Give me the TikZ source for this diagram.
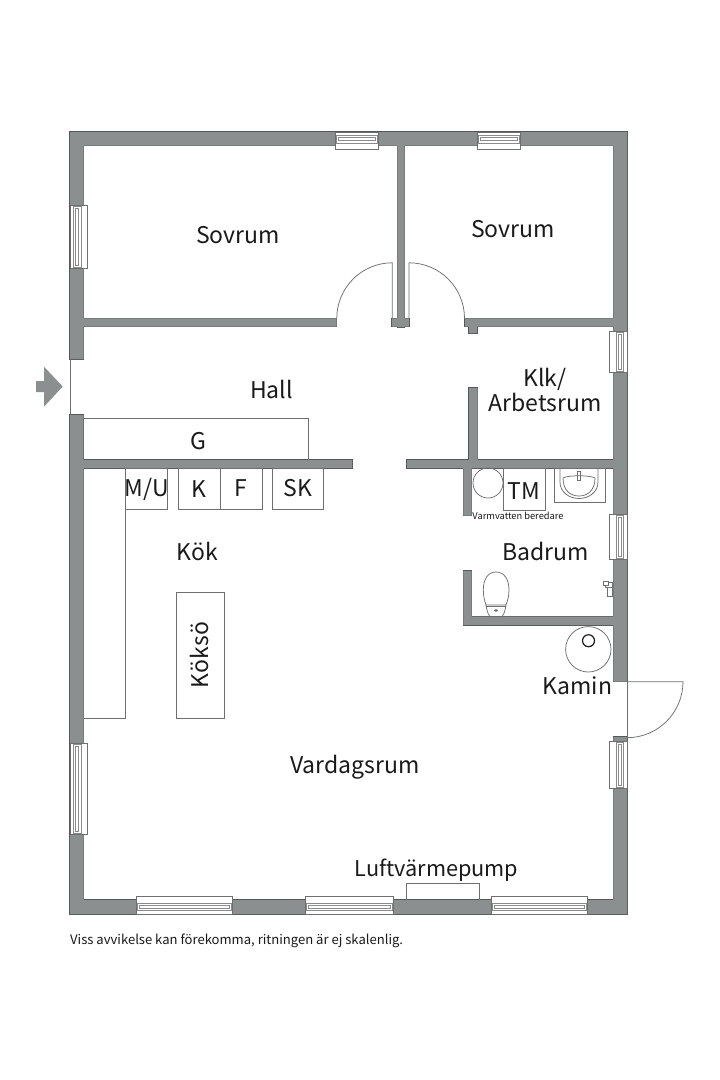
\documentclass[tikz,border=0pt]{standalone}
\usepackage{fontspec}
\setmainfont{Noto Sans CJK SC}
\definecolor{wallgray}{HTML}{8C8F8F}
\definecolor{walledge}{HTML}{555858}
\definecolor{linegray}{HTML}{6E7070}
\definecolor{winline}{HTML}{8A8C8C}
\definecolor{inkblack}{HTML}{1A1A1A}
\newcommand{\wallrects}{
  (70,132) rectangle (83.5,359)
  (70,132) rectangle (627,145.5)
  (613.3,132) rectangle (627,681.7)
  (70,415) rectangle (83.5,914)
  (70,900) rectangle (627,914)
  (613.3,737) rectangle (627,914)
  (397.3,132) rectangle (404.7,327)
  (392,318.3) rectangle (409,326.7)
  (70,318.3) rectangle (336.7,326.7)
  (465,318.3) rectangle (613.3,326.7)
  (469,318.3) rectangle (477,333)
  (70,460) rectangle (352,468)
  (407,460) rectangle (613.3,468)
  (469,388) rectangle (477.7,468)
  (463.3,460) rectangle (471.7,515.7)
  (463.3,571) rectangle (471.7,625)
  (463.3,616.7) rectangle (613.3,625)
}
\newcommand{\hwin}[4]{
  \fill[white] (#1,#3) rectangle (#2,#4);
  \draw[fine] (#1,#3) rectangle (#2,#4);
  \pgfmathsetmacro{\sa}{#3+0.38*(#4-#3)}
  \pgfmathsetmacro{\sb}{#3+0.80*(#4-#3)}
  \pgfmathsetmacro{\xa}{#1+1}
  \pgfmathsetmacro{\xb}{#2-1}
  \pgfmathsetmacro{\xc}{#1+3}
  \pgfmathsetmacro{\xd}{#2-3}
  \pgfmathsetmacro{\sc}{#3+0.52*(#4-#3)}
  \pgfmathsetmacro{\sd}{#3+0.68*(#4-#3)}
  \draw[winfine] (\xa,\sa) rectangle (\xb,\sb);
  \draw[winfine] (\xc,\sc) rectangle (\xd,\sd);
}
\newcommand{\vwin}[4]{
  \fill[white] (#3,#1) rectangle (#4,#2);
  \draw[fine] (#3,#1) rectangle (#4,#2);
  \pgfmathsetmacro{\sa}{#3+0.38*(#4-#3)}
  \pgfmathsetmacro{\sb}{#3+0.80*(#4-#3)}
  \pgfmathsetmacro{\xa}{#1+1}
  \pgfmathsetmacro{\xb}{#2-1}
  \pgfmathsetmacro{\xc}{#1+3}
  \pgfmathsetmacro{\xd}{#2-3}
  \pgfmathsetmacro{\sc}{#3+0.52*(#4-#3)}
  \pgfmathsetmacro{\sd}{#3+0.68*(#4-#3)}
  \draw[winfine] (\sa,\xa) rectangle (\sb,\xb);
  \draw[winfine] (\sc,\xc) rectangle (\sd,\xd);
}
\tikzset{
  fine/.style={draw=linegray,line width=0.75pt},
  winfine/.style={draw=winline,line width=0.6pt},
  room/.style={text=inkblack,font=\fontsize{23}{25}\selectfont,inner sep=0pt,align=center},
  fixture/.style={text=inkblack,font=\fontsize{23}{25}\selectfont,inner sep=0pt},
}
\begin{document}
\begin{tikzpicture}[x=1pt,y=-1pt]
\useasboundingbox (0,0) rectangle (720,1080);
\fill[white] (0,0) rectangle (720,1080);
% walls
\path[draw=walledge,line width=1.1pt] \wallrects;
\path[fill=wallgray] \wallrects;
% entrance and terrace door thresholds
\draw[fine] (70,359) -- (70,415);
\draw[fine] (627,681.7) -- (627,737);
% entrance arrow
\fill[wallgray] (36,381) -- (44,381) -- (44,366.7) -- (62.7,386.5) -- (44,406.7) -- (44,392) -- (36,392) -- cycle;
% doors
\draw[fine] (392.3,318) -- (392.3,262.8) arc[start angle=-90,end angle=-180,radius=55.5];
\draw[fine] (409,318) -- (409,262.8) arc[start angle=-90,end angle=0,radius=55.5];
\draw[fine] (627,681.7) -- (683,681.7) arc[start angle=0,end angle=90,radius=56];
% windows
\vwin{205}{268}{87.5}{70}
\vwin{743}{834}{87.5}{70}
\hwin{335}{378}{149.5}{132}
\hwin{477.5}{520}{149.5}{132}
\vwin{331}{372}{609.5}{627}
\vwin{514.3}{559}{609.5}{627}
\vwin{741}{788.3}{609.5}{627}
\hwin{136.7}{232}{896.7}{914}
\hwin{305.3}{393.7}{896.7}{914}
\hwin{491.7}{587}{896.7}{914}
% fixtures
\draw[fine] (83.5,460) -- (83.5,418.7) -- (308,418.7) -- (308,460);
\draw[fine] (125.3,468) rectangle (167.3,509.7);
\draw[fine] (178.3,468) rectangle (220.7,509.7);
\draw[fine] (220.7,468) rectangle (262.3,509.7);
\draw[fine] (272,468) rectangle (323,509.7);
\draw[fine] (125.3,509.7) -- (125.3,718) -- (83.5,718);
\draw[fine] (176,592) rectangle (224,718);
\draw[fine] (503.3,468) rectangle (545.7,510);
\draw[fine] (488,483) circle[radius=15];
\draw[fine] (554,468) rectangle (605.7,502.3);
\draw[fine] (560,468) -- (560,482) .. controls (560,492) and (569,498.5) .. (579,498.5) .. controls (589,498.5) and (598,492) .. (598,482) -- (598,468);
\draw[fine] (563,478) .. controls (563,490) and (570,496) .. (579,496) .. controls (588,496) and (595,490) .. (595,478) .. controls (590,475) and (568,475) .. (563,478) -- cycle;
\draw[fine] (577.5,471) rectangle (580.5,480);
\draw[fine] (496,572) .. controls (488,572) and (483.3,579) .. (483.3,590) .. controls (483.3,597) and (485,602) .. (486,605) -- (506,605) .. controls (507,602) and (509,597) .. (509,590) .. controls (509,579) and (504,572) .. (496,572) -- cycle;
\draw[fine] (486,605) .. controls (487,612) and (489,616.7) .. (491,616.7) -- (501,616.7) .. controls (503,616.7) and (505,612) .. (506,605);
\draw[fine] (486,606.5) -- (506,606.5);
\fill[linegray] (496,610.5) ellipse[x radius=2,y radius=1.2];
\draw[fine,line width=0.9pt] (605,582) -- (612,582) -- (612,587) -- (605,587) -- cycle (607,587) -- (607,596) -- (612,596) -- (612,587);
\fill[white,draw=linegray,line width=0.7pt] (603.5,581) rectangle (608,585);
\draw[fine] (588.3,649.3) circle[radius=22.7];
\draw[draw=inkblack,line width=1.2pt] (588.5,640.7) circle[radius=6];
\draw[fine] (406.7,900) -- (406.7,883.7) -- (479.3,883.7) -- (479.3,900);
% labels
\node[room] (n1) at (238,235.5) {Sovrum};
\node[room] (n2) at (513,229.5) {Sovrum};
\node[room] (n3) at (271.5,389) {Hall};
\node[room] (n4) at (545,389.5) {Klk/\\Arbetsrum};
\node[fixture] (n5) at (198,441) {G};
\node[fixture] (n6) at (146.5,489) {M/U};
\node[fixture] (n7) at (199,489) {K};
\node[fixture] (n8) at (241,488.5) {F};
\node[fixture] (n9) at (298,488) {SK};
\node[fixture] (n10) at (524,491) {TM};
\node[text=inkblack,font=\fontsize{9.3}{11}\selectfont,inner sep=0pt] (n11) at (518,516) {Varmvatten beredare};
\node[room] (n12) at (197.5,551) {Kök};
\node[room,rotate=90] (n13) at (199.5,655) {Köksö};
\node[room] (n14) at (545.5,551) {Badrum};
\node[room] (n15) at (577.5,686) {Kamin};
\node[room] (n16) at (355,767.5) {Vardagsrum};
\node[room,font=\fontsize{21.7}{25}\selectfont] (n17) at (436.5,870) {Luftvärmepump};
\node[text=inkblack,font=\fontsize{13.07}{15}\selectfont,inner sep=0pt,anchor=west] (n18) at (70,940.5) {Viss avvikelse kan förekomma, ritningen är ej skalenlig.};
\end{tikzpicture}
\end{document}
